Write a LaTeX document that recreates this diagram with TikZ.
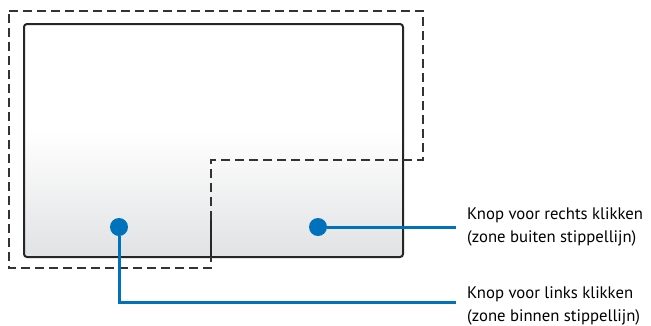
\documentclass[tikz,border=0pt]{standalone}
\usepackage{fontspec}
\setmainfont{PT Sans}
\usetikzlibrary{positioning}
\definecolor{asusblue}{HTML}{0072BC}
\definecolor{padgray}{HTML}{E1E2E4}
\pgfdeclareverticalshading{padshade}{100bp}{color(0bp)=(padgray); color(25bp)=(padgray); color(52bp)=(white); color(100bp)=(white)}
\begin{document}
\begin{tikzpicture}[x=1pt,y=-1pt]
\tikzstyle{pad} = [draw=black!85, line width=2pt, rounded corners=3pt]
\tikzstyle{zone} = [draw=black!80, line width=1.2pt, dash pattern=on 9pt off 5pt]
\tikzstyle{dot} = [circle, fill=asusblue, inner sep=0pt, minimum size=18pt]
\tikzstyle{lead} = [draw=asusblue, line width=3pt]
\tikzstyle{ann} = [font=\fontsize{16.7}{22.5}\selectfont, align=left, inner sep=0pt]

\useasboundingbox (0,0) rectangle (651,325);
\shade[shading=padshade, pad] (24,24) rectangle (403,257);
\draw[zone] (9,11) -- (423,11) -- (423,160) -- (211,160) -- (211,268) -- (9,268) -- cycle;
\draw[pad] (211,220) -- (211,257);

\node[dot] (lbtn) at (119,227) {};
\node[dot] (rbtn) at (318,227) {};
\coordinate (rend) at (456,227);
\coordinate (lend) at (456,302);
\draw[lead] (rbtn) -- (rend);
\draw[lead] (lbtn) |- (lend);

\node[ann, right=11pt of rend] (rtxt) {Knop voor rechts klikken\\(zone buiten stippellijn)};
\node[ann, right=11pt of lend, yshift=-4pt] (ltxt) {Knop voor links klikken\\(zone binnen stippellijn)};
\end{tikzpicture}
\end{document}
